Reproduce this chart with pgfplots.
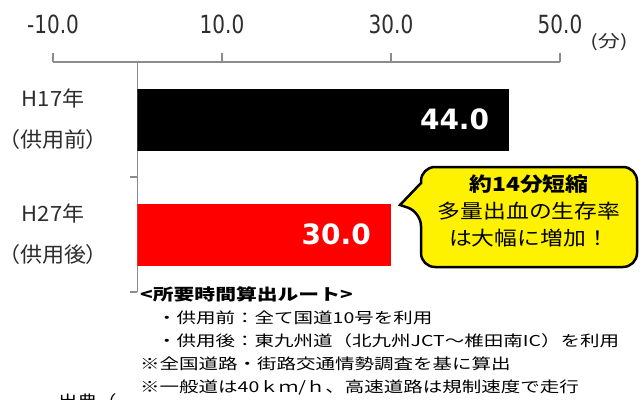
\documentclass[border=0pt]{standalone}
\usepackage{fontspec}
\usepackage{pgfplots}
\pgfplotsset{compat=1.18}
\newfontfamily\jpA[FakeStretch=1.05, RawFeature=+palt]{Noto Sans CJK JP}
\newfontfamily\jpB[FakeStretch=1.3]{Noto Sans CJK JP}
\newfontfamily\jpC[FakeStretch=1.17]{Noto Sans CJK JP}
\newfontfamily\tickf[FakeStretch=0.8]{DejaVu Sans}
\newfontfamily\valf{DejaVu Sans}
\definecolor{axgray}{RGB}{140,140,140}
\definecolor{txt}{RGB}{45,45,45}
\begin{document}
\begin{tikzpicture}
\useasboundingbox (0,0) rectangle (640pt,-399pt);
\begin{axis}[
 at={(53pt,-62pt)}, anchor=north west,
 scale only axis, width=507pt, height=230pt,
 xmin=-10, xmax=50, ymin=0, ymax=1,
 axis x line*=top, axis y line=none,
 xtick={-10,10,30,50}, xticklabels={-10.0,10.0,30.0,50.0},
 tick align=outside, major tick length=9pt,
 x axis line style={draw=axgray, line width=1.8pt},
 xtick style={draw=axgray, line width=1.8pt},
 xticklabel style={font=\tickf\fontsize{25}{25}\selectfont, text=txt, inner sep=0pt, yshift=19pt},
]
\addplot[draw=none, mark=none] coordinates {(0,0.5) (10,0.5)};
\end{axis}
\draw[axgray, line width=1.8pt] (53pt,-62pt) -- (560pt,-62pt);
\begin{axis}[
 at={(137.5pt,-62pt)}, anchor=north west,
 scale only axis, width=422.5pt, height=230pt,
 xmin=0, xmax=50, ymin=-0.5, ymax=1.5, y dir=reverse,
 axis x line=none, axis y line*=left,
 xbar, bar width=62pt, bar shift=0pt,
 ytick={0,1}, yticklabels={{H17年\\（供用前）},{H27年\\（供用後）}},
 minor ytick={0.5,1.5},
 tick align=outside, major tick length=0pt, minor tick length=7pt,
 y axis line style={axgray, line width=1.8pt},
 minor tick style={axgray, line width=1.5pt},
 major tick style={draw=none},
 yticklabel style={font=\jpA\fontsize{21}{41}\selectfont, align=center, text=txt, inner sep=0pt, xshift=-40pt},
 point meta=x,
 nodes near coords={\pgfmathprintnumber[fixed,zerofill,precision=1,assume math mode=true]{\pgfplotspointmeta}},
 every node near coord/.append style={font=\valf\bfseries\fontsize{28}{28}\selectfont, text=white, anchor=east, xshift=-20pt, inner sep=0pt},
]
\addplot[fill=black, draw=none] coordinates {(44,0)};
\addplot[fill=red, draw=none] coordinates {(30,1)};
\end{axis}
\node[font=\jpB\fontsize{17}{17}\selectfont, text=txt] at (609pt,-42pt) {(分)};
\draw[line width=2.5pt, fill=yellow] (421pt,-183pt) [rounded corners=14pt] -- (421pt,-167pt) -- (637pt,-167pt) -- (637pt,-267pt) -- (421pt,-267pt) -- (421pt,-212pt) [sharp corners] -- (400pt,-205pt) -- cycle;
\node[font=\jpC\fontsize{19.5}{27}\selectfont, align=center, text=black] at (529pt,-211pt) {\textbf{約14分短縮}\\多量出血の生存率\\は大幅に増加！};
\begin{scope}[every node/.style={anchor=west, inner sep=0pt, font=\jpB\fontsize{15}{23}\selectfont, text=black}]
\node[font=\jpB\bfseries\fontsize{16}{23}\selectfont] at (140pt,-294pt) {<所要時間算出ルート>};
\node at (157pt,-317.5pt) {・供用前：全て国道10号を利用};
\node at (157pt,-341pt) {・供用後：東九州道（北九州JCT～椎田南IC）を利用};
\node at (140pt,-364pt) {※全国道路・街路交通情勢調査を基に算出};
\node at (140pt,-387.5pt) {※一般道は40ｋｍ/ｈ、高速道路は規制速度で走行};
\node at (58pt,-401pt) {出典（};
\end{scope}
\end{tikzpicture}
\end{document}
